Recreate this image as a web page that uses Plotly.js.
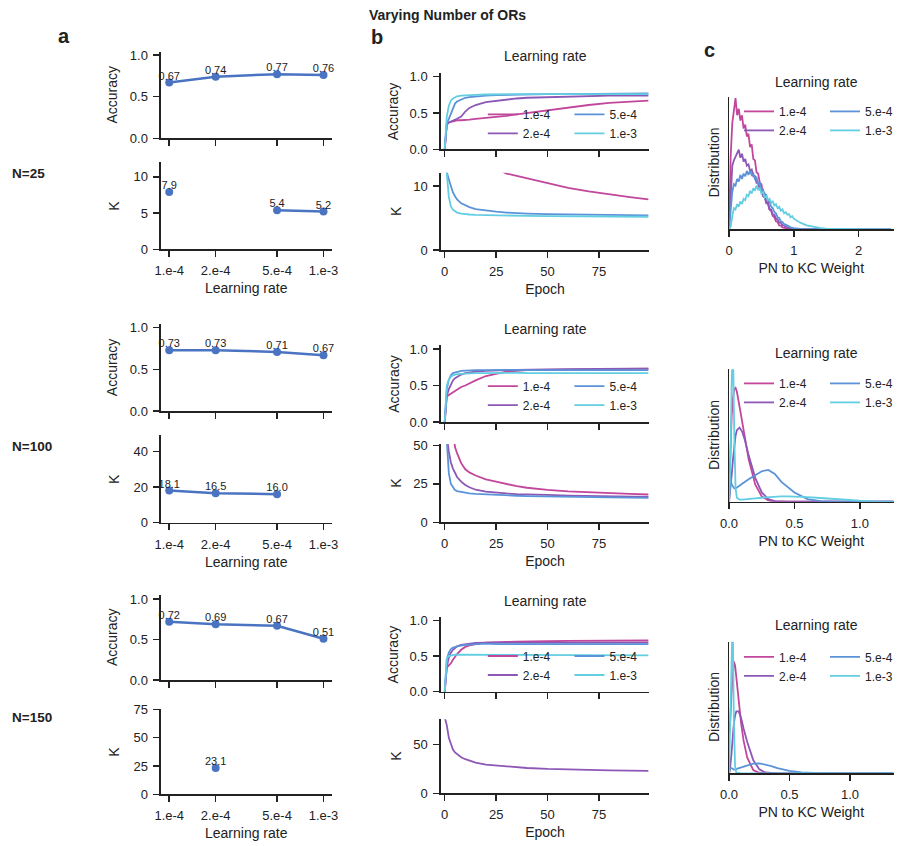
<!DOCTYPE html>
<html>
<head>
<meta charset="utf-8">
<script src="https://cdn.plot.ly/plotly-3.0.1.min.js"></script>
<style>html,body{margin:0;padding:0;background:#fff}#chart{width:898px;height:846px}</style>
</head>
<body>
<div id="chart"></div>
<script>
// ---------------- DATA ----------------
const lrLabels = ['1.e-4', '2.e-4', '5.e-4', '1.e-3'];
const lrValues = [1e-4, 2e-4, 5e-4, 1e-3];

// panel a : final accuracy / K per learning rate
const accN25 = [0.67, 0.74, 0.77, 0.76];
const kN25 = [7.9, null, 5.4, 5.2];
const accN100 = [0.73, 0.73, 0.71, 0.67];
const kN100 = [18.1, 16.5, 16.0, null];
const accN150 = [0.72, 0.69, 0.67, 0.51];
const kN150 = [null, 23.1, null, null];

// panel b : training curves
const epochs = [0, 1, 2, 3, 4, 5, 6, 8, 10, 12, 15, 20, 25, 30, 35, 40, 50, 60, 70, 80, 90, 99];

const accN25_1e4 = [0, 0.34, 0.37, 0.38, 0.39, 0.39, 0.40, 0.40, 0.41, 0.41, 0.42, 0.43, 0.44, 0.46, 0.48, 0.50, 0.54, 0.58, 0.61, 0.64, 0.66, 0.67];
const accN25_2e4 = [0, 0.34, 0.37, 0.38, 0.39, 0.40, 0.42, 0.45, 0.52, 0.57, 0.61, 0.65, 0.67, 0.69, 0.70, 0.71, 0.72, 0.73, 0.735, 0.74, 0.74, 0.74];
const accN25_5e4 = [0, 0.36, 0.42, 0.50, 0.58, 0.63, 0.66, 0.69, 0.71, 0.72, 0.73, 0.74, 0.745, 0.75, 0.75, 0.755, 0.76, 0.76, 0.765, 0.77, 0.77, 0.77];
const accN25_1e3 = [0, 0.45, 0.60, 0.67, 0.70, 0.72, 0.73, 0.74, 0.745, 0.75, 0.75, 0.755, 0.76, 0.755, 0.76, 0.76, 0.76, 0.76, 0.765, 0.76, 0.76, 0.76];
const kN25_1e4 = [null, null, null, null, null, null, null, null, null, null, null, null, 12.8, 11.95, 11.6, 11.2, 10.4, 9.7, 9.15, 8.65, 8.25, 7.9];
const kN25_5e4 = [16, 12.2, 11.0, 9.8, 9.0, 8.4, 7.9, 7.3, 7.0, 6.7, 6.4, 6.15, 6.0, 5.85, 5.75, 5.7, 5.6, 5.55, 5.5, 5.45, 5.42, 5.4];
const kN25_1e3 = [20, 12.0, 8.3, 6.8, 6.3, 6.0, 5.85, 5.7, 5.6, 5.55, 5.5, 5.45, 5.4, 5.38, 5.35, 5.33, 5.3, 5.28, 5.25, 5.23, 5.22, 5.2];

const accN100_1e4 = [0, 0.35, 0.37, 0.39, 0.41, 0.43, 0.45, 0.48, 0.50, 0.53, 0.57, 0.63, 0.66, 0.69, 0.70, 0.71, 0.715, 0.72, 0.725, 0.73, 0.73, 0.73];
const accN100_2e4 = [0, 0.36, 0.45, 0.52, 0.57, 0.60, 0.62, 0.65, 0.67, 0.68, 0.69, 0.70, 0.71, 0.71, 0.715, 0.72, 0.72, 0.725, 0.73, 0.73, 0.73, 0.73];
const accN100_5e4 = [0, 0.45, 0.58, 0.64, 0.67, 0.68, 0.69, 0.70, 0.705, 0.71, 0.71, 0.71, 0.715, 0.71, 0.715, 0.71, 0.71, 0.715, 0.71, 0.71, 0.71, 0.71];
const accN100_1e3 = [0, 0.50, 0.58, 0.62, 0.64, 0.65, 0.655, 0.66, 0.665, 0.67, 0.67, 0.67, 0.675, 0.67, 0.675, 0.67, 0.67, 0.675, 0.67, 0.67, 0.67, 0.67];
const kN100_1e4 = [null, null, null, null, 58, 49, 45, 38.5, 34.5, 32.5, 30.5, 28.0, 26.5, 24.8, 23.5, 22.5, 21.1, 20.2, 19.5, 18.9, 18.5, 18.1];
const kN100_2e4 = [75, 56, 46, 39, 35, 32, 29.5, 26.5, 24.3, 22.8, 21.2, 20.0, 19.3, 18.8, 18.4, 18.1, 17.8, 17.4, 17.1, 16.9, 16.7, 16.5];
const kN100_5e4 = [75, 50, 32, 25, 22.5, 21, 20.3, 19.7, 19.3, 18.9, 18.5, 18.1, 17.8, 17.5, 17.3, 17.1, 16.8, 16.6, 16.4, 16.25, 16.1, 16.0];

const accN150_1e4 = [0, 0.34, 0.37, 0.40, 0.45, 0.49, 0.53, 0.59, 0.63, 0.65, 0.67, 0.69, 0.70, 0.70, 0.705, 0.71, 0.71, 0.715, 0.715, 0.72, 0.72, 0.72];
const accN150_2e4 = [0, 0.35, 0.48, 0.55, 0.59, 0.62, 0.64, 0.66, 0.67, 0.68, 0.685, 0.69, 0.69, 0.69, 0.695, 0.69, 0.69, 0.695, 0.69, 0.69, 0.69, 0.69];
const accN150_5e4 = [0, 0.45, 0.55, 0.60, 0.62, 0.63, 0.64, 0.65, 0.66, 0.665, 0.67, 0.675, 0.67, 0.675, 0.67, 0.67, 0.67, 0.67, 0.67, 0.67, 0.67, 0.67];
const accN150_1e3 = [0, 0.47, 0.50, 0.51, 0.515, 0.52, 0.52, 0.52, 0.52, 0.52, 0.52, 0.52, 0.515, 0.52, 0.52, 0.515, 0.52, 0.51, 0.515, 0.51, 0.51, 0.51];
const kN150_2e4 = [78, 70, 57, 50, 45, 42, 40, 37, 35, 33.5, 31.5, 29.5, 28.5, 27.4, 26.6, 26.0, 25.0, 24.3, 23.8, 23.5, 23.3, 23.1];

// panel c : PN to KC weight distributions
const weightN25 = [0, 0.025, 0.05, 0.075, 0.1, 0.125, 0.15, 0.175, 0.2, 0.225, 0.25, 0.275, 0.3, 0.325, 0.35, 0.375, 0.4, 0.425, 0.45, 0.475, 0.5, 0.525, 0.55, 0.575, 0.6, 0.625, 0.65, 0.675, 0.7, 0.725, 0.75, 0.775, 0.8, 0.825, 0.85, 0.875, 0.9, 0.925, 0.95, 0.975, 1.0, 1.1, 1.2, 1.3, 1.4, 1.5, 1.75, 2.0, 2.5];
const distN25_1e4 = [0, 0.55, 0.80, 0.92, 0.99, 0.86, 0.91, 0.82, 0.86, 0.76, 0.79, 0.70, 0.72, 0.62, 0.64, 0.53, 0.52, 0.43, 0.42, 0.35, 0.34, 0.27, 0.27, 0.20, 0.21, 0.15, 0.14, 0.10, 0.09, 0.06, 0.055, 0.03, 0.028, 0.015, 0.012, 0.006, 0.005, 0.002, 0.002, 0.001, 0, 0, 0, 0, 0, 0, 0, 0, 0];
const distN25_2e4 = [0, 0.30, 0.48, 0.52, 0.55, 0.57, 0.60, 0.54, 0.57, 0.51, 0.53, 0.48, 0.49, 0.44, 0.45, 0.40, 0.40, 0.35, 0.35, 0.30, 0.29, 0.25, 0.24, 0.20, 0.19, 0.15, 0.15, 0.11, 0.11, 0.08, 0.075, 0.05, 0.05, 0.03, 0.03, 0.018, 0.015, 0.008, 0.006, 0.003, 0.002, 0, 0, 0, 0, 0, 0, 0, 0];
const distN25_5e4 = [0, 0.15, 0.28, 0.34, 0.33, 0.38, 0.36, 0.41, 0.38, 0.42, 0.40, 0.44, 0.41, 0.44, 0.41, 0.42, 0.38, 0.39, 0.34, 0.35, 0.30, 0.30, 0.26, 0.26, 0.21, 0.21, 0.17, 0.16, 0.13, 0.12, 0.09, 0.085, 0.06, 0.055, 0.04, 0.035, 0.025, 0.022, 0.015, 0.012, 0.008, 0.003, 0.001, 0, 0, 0, 0, 0, 0];
const distN25_1e3 = [0, 0.02, 0.10, 0.16, 0.15, 0.19, 0.17, 0.21, 0.19, 0.23, 0.22, 0.26, 0.25, 0.29, 0.27, 0.31, 0.29, 0.33, 0.30, 0.31, 0.27, 0.28, 0.24, 0.25, 0.22, 0.23, 0.20, 0.21, 0.18, 0.19, 0.16, 0.17, 0.14, 0.15, 0.12, 0.13, 0.11, 0.115, 0.09, 0.10, 0.08, 0.05, 0.03, 0.018, 0.01, 0.005, 0.002, 0.001, 0];

const weightN100 = [0, 0.01, 0.02, 0.03, 0.04, 0.05, 0.06, 0.08, 0.1, 0.12, 0.15, 0.2, 0.25, 0.3, 0.35, 0.4, 0.45, 0.5, 0.6, 0.7, 0.8, 0.9, 1.0, 1.1, 1.26];
const distN100_1e4 = [0.05, 0.45, 0.65, 0.78, 0.85, 0.86, 0.83, 0.72, 0.60, 0.48, 0.32, 0.13, 0.04, 0.01, 0, 0, 0, 0, 0, 0, 0, 0, 0, 0, 0];
const distN100_2e4 = [0, 0.08, 0.20, 0.32, 0.42, 0.50, 0.54, 0.56, 0.53, 0.47, 0.35, 0.18, 0.07, 0.02, 0.005, 0.001, 0, 0, 0, 0, 0, 0, 0, 0, 0];
const distN100_5e4 = [0, 0.19, 0.13, 0.11, 0.10, 0.10, 0.105, 0.12, 0.135, 0.15, 0.17, 0.20, 0.23, 0.24, 0.21, 0.15, 0.11, 0.07, 0.02, 0.005, 0.001, 0, 0, 0, 0];
const distN100_1e3 = [0, 0.3, 0.9, 1.2, 0.5, 0.1, 0.03, 0.015, 0.015, 0.018, 0.02, 0.025, 0.03, 0.035, 0.038, 0.04, 0.04, 0.04, 0.035, 0.028, 0.02, 0.012, 0.007, 0.003, 0.001];

const weightN150 = [0, 0.01, 0.02, 0.03, 0.04, 0.05, 0.06, 0.08, 0.1, 0.12, 0.15, 0.2, 0.25, 0.3, 0.35, 0.4, 0.45, 0.5, 0.6, 0.7, 0.8, 0.9, 1.0, 1.1, 1.36];
const distN150_1e4 = [0.3, 0.4, 0.6, 0.78, 0.85, 0.82, 0.72, 0.52, 0.38, 0.25, 0.12, 0.025, 0.004, 0, 0, 0, 0, 0, 0, 0, 0, 0, 0, 0, 0];
const distN150_2e4 = [0, 0.05, 0.15, 0.28, 0.38, 0.44, 0.47, 0.47, 0.42, 0.34, 0.24, 0.10, 0.03, 0.006, 0.001, 0, 0, 0, 0, 0, 0, 0, 0, 0, 0];
const distN150_5e4 = [0, 0.04, 0.04, 0.03, 0.028, 0.03, 0.033, 0.04, 0.047, 0.055, 0.065, 0.074, 0.076, 0.068, 0.055, 0.04, 0.028, 0.018, 0.006, 0.002, 0, 0, 0, 0, 0];
const distN150_1e3 = [0, 0.4, 1.0, 1.2, 0.4, 0.05, 0.005, 0, 0, 0, 0, 0, 0, 0, 0, 0, 0, 0, 0, 0, 0, 0, 0, 0, 0];

// ---------------- STYLE ----------------
const W = 898, H = 846;
const FONT = '"Liberation Sans", Arial, Helvetica, sans-serif';
const INK = '#222222';
const lrColors = ['#c2469c', '#8c57b5', '#5b93d8', '#63cde2'];
const aColor = '#4a74c2';
const X = p => p / W;
const ydom = (t, b) => [1 - b / H, 1 - t / H];
const colA = [X(161.7), X(333)], colB = [X(442.7), X(652.3)], colC = [X(732.3), X(897.5)];
const logRange = [-4.0535, -2.948];
const epochRange = [-1.94, 99.5];

const layout = {
  width: W, height: H,
  margin: {l: 0, r: 0, t: 0, b: 0},
  paper_bgcolor: '#fff', plot_bgcolor: 'rgba(0,0,0,0)',
  font: {family: FONT, color: INK, size: 13},
  showlegend: true,
  annotations: []
};
const traces = [];

function baseAxis(extra) {
  return Object.assign({
    showline: true, linecolor: INK, linewidth: 1.5,
    ticks: 'outside', ticklen: 6, tickwidth: 1.5, tickcolor: INK,
    showgrid: false, zeroline: false, fixedrange: true,
    ticklabelstandoff: 3,
    tickfont: {family: FONT, size: 13, color: INK}
  }, extra);
}
function addPanel(id, xdomain, ydomain, xopts, yopts) {
  const s = id === 1 ? '' : String(id);
  layout['xaxis' + s] = baseAxis(Object.assign({domain: xdomain, anchor: 'y' + s}, xopts));
  layout['yaxis' + s] = baseAxis(Object.assign({domain: ydomain, anchor: 'x' + s}, yopts));
  return {x: 'x' + s, y: 'y' + s};
}
function ann(text, xPx, yPx, size, opts) {
  layout.annotations.push(Object.assign({
    text: text, x: X(xPx), y: 1 - yPx / H, xref: 'paper', yref: 'paper',
    xanchor: 'center', yanchor: 'middle', showarrow: false,
    font: {family: FONT, size: size, color: INK}
  }, opts || {}));
}
const xTitle = t => ({text: t, font: {family: FONT, size: 14, color: INK}, standoff: 6});

const rows = [
  {n: 'N=25', acc: accN25, k: kN25, kRange: [0, 12], kTicks: [0, 5, 10],
   aAcc: [51.7, 138.3], aK: [162.3, 249.3], accRangeA: [0, 1.04],
   bAcc: [72.7, 149.3], bK: [172.7, 250], bKRange: [0, 12.08], bKTicks: [0, 10],
   cY: [96.7, 229.3], cRange: [0, 2.54], cTicks: [0, 1, 2], cFmt: 'd',
   curvesAcc: [accN25_1e4, accN25_2e4, accN25_5e4, accN25_1e3],
   curvesK: [kN25_1e4, null, kN25_5e4, kN25_1e3],
   weight: weightN25, dists: [distN25_1e4, distN25_2e4, distN25_5e4, distN25_1e3],
   nLabelY: 173, bTitleY: 56, cTitleY: 81.7, bLegTop: 99.9, cLegTop: 96.9},
  {n: 'N=100', acc: accN100, k: kN100, kRange: [0, 49], kTicks: [0, 20, 40],
   aAcc: [324.4, 411], aK: [435.2, 522.7], accRangeA: [0, 1.04],
   bAcc: [345, 422], bK: [444, 522.3], bKRange: [0, 51], bKTicks: [0, 25, 50],
   cY: [369.3, 501.7], cRange: [0, 1.257], cTicks: [0, 0.5, 1], cFmt: '.1f',
   curvesAcc: [accN100_1e4, accN100_2e4, accN100_5e4, accN100_1e3],
   curvesK: [kN100_1e4, kN100_2e4, kN100_5e4, null],
   weight: weightN100, dists: [distN100_1e4, distN100_2e4, distN100_5e4, distN100_1e3],
   nLabelY: 446, bTitleY: 329, cTitleY: 353, bLegTop: 371.7, cLegTop: 368.9},
  {n: 'N=150', acc: accN150, k: kN150, kRange: [0, 75], kTicks: [0, 25, 50, 75],
   aAcc: [595, 680], aK: [709.3, 794.3], accRangeA: [0, 1.05],
   bAcc: [616.7, 691.7], bK: [719.3, 793.3], bKRange: [0, 76], bKTicks: [0, 50],
   cY: [641.7, 773.3], cRange: [0, 1.36], cTicks: [0, 0.5, 1], cFmt: '.1f',
   curvesAcc: [accN150_1e4, accN150_2e4, accN150_5e4, accN150_1e3],
   curvesK: [null, kN150_2e4, null, null],
   weight: weightN150, dists: [distN150_1e4, distN150_2e4, distN150_5e4, distN150_1e3],
   nLabelY: 717.5, bTitleY: 600.5, cTitleY: 625, bLegTop: 641.5, cLegTop: 642.4}
];

function legendAt(xPx, topPx) {
  return {x: X(xPx), y: 1 - topPx / H, xanchor: 'left', yanchor: 'top',
    orientation: 'v', bgcolor: 'rgba(0,0,0,0)', borderwidth: 0, tracegroupgap: 0,
    font: {family: FONT, size: 12, color: INK}};
}
function labelTrace(xs, ys, digits, ax) {
  return {x: xs, y: ys, xaxis: ax.x, yaxis: ax.y, mode: 'text',
    text: ys.map(v => v == null ? '' : v.toFixed(digits)), textposition: 'top center',
    textfont: {family: FONT, size: 11, color: INK}, cliponaxis: false,
    showlegend: false, hoverinfo: 'skip'};
}

rows.forEach((r, ri) => {
  const base = ri * 5;
  const legIds = [1, 2, 3, 4].map(k => {
    const n = ri * 4 + k; return n === 1 ? 'legend' : 'legend' + n;
  });
  layout[legIds[0]] = legendAt(485, r.bLegTop);
  layout[legIds[1]] = legendAt(572, r.bLegTop);
  layout[legIds[2]] = legendAt(742.3, r.cLegTop);
  layout[legIds[3]] = legendAt(829, r.cLegTop);

  // ---- panel a: accuracy
  const a1 = addPanel(base + 1, colA, ydom(r.aAcc[0], r.aAcc[1]),
    {type: 'log', range: logRange, tickvals: lrValues, ticktext: lrLabels, showticklabels: false},
    {range: r.accRangeA, tickvals: [0, 0.5, 1], tickformat: '.1f'});
  traces.push({x: lrValues, y: r.acc, xaxis: a1.x, yaxis: a1.y, mode: 'lines+markers',
    cliponaxis: false, line: {color: aColor, width: 2.5}, marker: {color: aColor, size: 8},
    showlegend: false, hoverinfo: 'skip'});
  traces.push(labelTrace(lrValues, r.acc, 2, a1));
  // ---- panel a: K
  const a2 = addPanel(base + 2, colA, ydom(r.aK[0], r.aK[1]),
    {type: 'log', range: logRange, tickvals: lrValues, ticktext: lrLabels, title: xTitle('Learning rate')},
    {range: r.kRange, tickvals: r.kTicks});
  traces.push({x: lrValues, y: r.k, xaxis: a2.x, yaxis: a2.y, mode: 'lines+markers',
    cliponaxis: false, connectgaps: false, line: {color: aColor, width: 2.5},
    marker: {color: aColor, size: 8}, showlegend: false, hoverinfo: 'skip'});
  traces.push(labelTrace(lrValues, r.k, 1, a2));

  // ---- panel b: accuracy curves
  const b1 = addPanel(base + 3, colB, ydom(r.bAcc[0], r.bAcc[1]),
    {range: epochRange, tickvals: [0, 25, 50, 75], showticklabels: false},
    {range: [0, 1.055], tickvals: [0, 0.5, 1], tickformat: '.1f'});
  r.curvesAcc.forEach((ys, i) => {
    traces.push({x: epochs, y: ys, xaxis: b1.x, yaxis: b1.y, mode: 'lines', name: lrLabels[i],
      legend: i < 2 ? legIds[0] : legIds[1], line: {color: lrColors[i], width: 1.8}, hoverinfo: 'skip'});
  });
  // ---- panel b: K curves
  const b2 = addPanel(base + 4, colB, ydom(r.bK[0], r.bK[1]),
    {range: epochRange, tickvals: [0, 25, 50, 75], title: xTitle('Epoch')},
    {range: r.bKRange, tickvals: r.bKTicks});
  r.curvesK.forEach((ys, i) => {
    if (!ys) return;
    traces.push({x: epochs, y: ys, xaxis: b2.x, yaxis: b2.y, mode: 'lines', name: lrLabels[i],
      showlegend: false, line: {color: lrColors[i], width: 1.8}, hoverinfo: 'skip'});
  });

  // ---- panel c: distributions
  const c1 = addPanel(base + 5, colC, ydom(r.cY[0], r.cY[1]),
    {range: r.cRange, tickvals: r.cTicks, tickformat: r.cFmt, title: xTitle('PN to KC Weight')},
    {range: [0, 1], ticks: '', showticklabels: false});
  r.dists.forEach((ys, i) => {
    traces.push({x: r.weight, y: ys, xaxis: c1.x, yaxis: c1.y, mode: 'lines', name: lrLabels[i],
      legend: i < 2 ? legIds[2] : legIds[3], line: {color: lrColors[i], width: 1.8}, hoverinfo: 'skip'});
  });

  // ---- text
  const mid = a => (a[0] + a[1]) / 2;
  ann('<b>' + r.n + '</b>', 10, r.nLabelY, 13.5, {xanchor: 'left'});
  ann('Accuracy', 112, mid(r.aAcc), 14, {textangle: -90});
  ann('K', 114.5, mid(r.aK), 14, {textangle: -90});
  ann('Accuracy', 395, mid(r.bAcc), 14, {textangle: -90});
  ann('K', 398.3, mid(r.bK), 14, {textangle: -90});
  ann('Distribution', 716.7, mid(r.cY), 14, {textangle: -90});
  ann('Learning rate', 547.7, r.bTitleY, 14);
  ann('Learning rate', 820, r.cTitleY, 14);
});

ann('<b>Varying Number of ORs</b>', 449, 15, 14);
ann('<b>a</b>', 64.5, 36.5, 20);
ann('<b>b</b>', 379, 37, 20);
ann('<b>c</b>', 712.5, 50, 20);

Plotly.newPlot('chart', traces, layout, {displayModeBar: false, staticPlot: true});
</script>
</body>
</html>
